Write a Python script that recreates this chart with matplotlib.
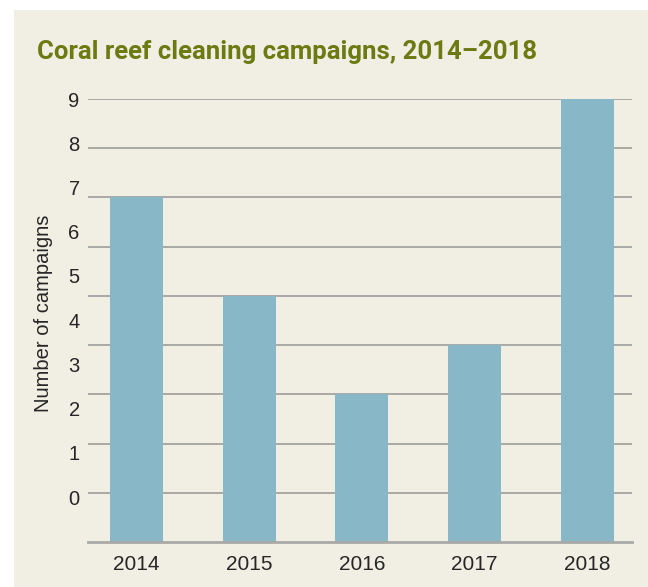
import matplotlib
matplotlib.use("Agg")
import matplotlib.pyplot as plt
from matplotlib.patches import Rectangle

# ---------------------------- data ----------------------------
years = ["2014", "2015", "2016", "2017", "2018"]
campaigns = [7, 5, 3, 4, 9]
label_ticks = [0, 1, 2, 3, 4, 5, 6, 7, 8, 9]

title = "Coral reef cleaning campaigns, 2014–2018"
ylabel = "Number of campaigns"

# ---------------------------- style ----------------------------
panel_bg = "#f1eee3"
bar_color = "#88b8c7"
grid_color = "#a9a9a6"
title_color = "#6b7b12"
text_color = "#262626"

plt.rcParams["font.family"] = ["Liberation Sans", "DejaVu Sans"]

fig = plt.figure(figsize=(6.48, 5.87), dpi=100)
fig.patch.set_facecolor("white")
W, H = 648, 587

# beige panel behind everything
fig.patches.append(
    Rectangle((14 / W, 0), 1 - 14 / W, 1 - 10 / H, transform=fig.transFigure,
              facecolor=panel_bg, edgecolor="none", zorder=-5)
)

left, right, top, bottom = 88, 632, 99, 542
ax = fig.add_axes([left / W, 1 - bottom / H, (right - left) / W, (bottom - top) / H])
ax.set_facecolor("none")

x = list(range(len(years)))
ax.bar(x, campaigns, width=0.47, color=bar_color, zorder=2)
ax.set_xlim(-0.43, 4.395)
ax.set_ylim(0, 9)

# gridlines at 1..9, baseline at 0
for v in range(1, 10):
    ax.axhline(v, color=grid_color, lw=1.4, zorder=1)
ax.axhline(0, color=grid_color, lw=2.0, zorder=3, clip_on=False)

for s in ax.spines.values():
    s.set_visible(False)
ax.set_yticks([])
ax.set_xticks(x)
ax.set_xticklabels(years, fontsize=15, color=text_color)
ax.tick_params(axis="x", length=0, pad=9)

# tick labels sit on their own scale, offset from the gridlines
ax2 = ax.twinx()
ax2.set_ylim(-1.015, 8.98)
ax2.yaxis.tick_left()
ax2.set_yticks(label_ticks)
ax2.set_yticklabels([str(t) for t in label_ticks], fontsize=14.5, color=text_color)
ax2.tick_params(axis="y", length=0, pad=6)
for s in ax2.spines.values():
    s.set_visible(False)

fig.text(44 / W, 1 - 313 / H, ylabel, rotation=90, ha="center", va="center",
         fontsize=14.5, color=text_color)

fig.text(37 / W, 1 - 52 / H, title, ha="left", va="center", fontsize=18.5,
         fontweight="bold", color=title_color,
         family=["Roboto", "DejaVu Sans"])

fig.savefig("out.png", dpi=100, facecolor=fig.get_facecolor())
